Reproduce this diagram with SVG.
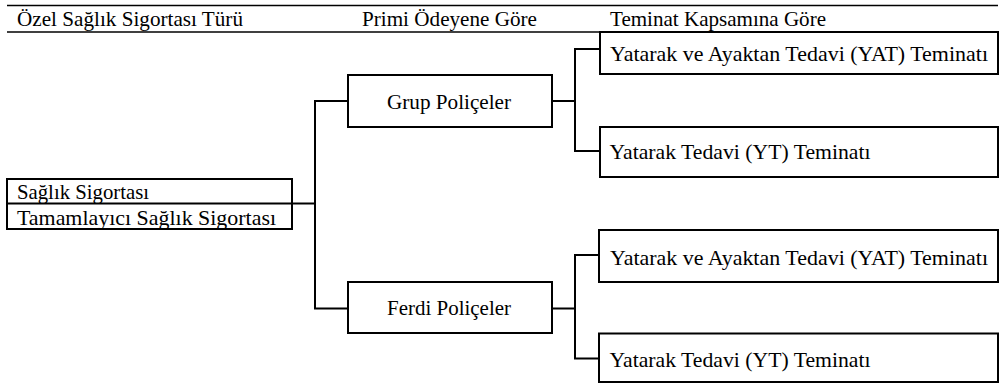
<svg xmlns="http://www.w3.org/2000/svg" width="1000" height="384" viewBox="0 0 1000 384">
<style>
text{font-family:'Liberation Serif','Times New Roman',Tinos,'DejaVu Serif',serif;font-size:21px;fill:#000}
.box{fill:#fff;stroke:#000;stroke-width:2}
.hdr{stroke:#000;stroke-width:1.6}
.con{fill:none;stroke:#000;stroke-width:2}
</style>
<rect width="1000" height="384" fill="#fff"/>
<g id="header">
<line class="hdr" x1="7" y1="5.5" x2="998" y2="5.5"/>
<line class="hdr" x1="7" y1="32" x2="998" y2="32"/>
<text x="17" y="25.5" textLength="226" lengthAdjust="spacingAndGlyphs">Özel Sağlık Sigortası Türü</text>
<text x="362" y="25.5" textLength="175" lengthAdjust="spacingAndGlyphs">Primi Ödeyene Göre</text>
<text x="610" y="25.5" textLength="216" lengthAdjust="spacingAndGlyphs">Teminat Kapsamına Göre</text>
</g>
<g id="connectors">
<polyline class="con" points="292,203.5 315,203.5"/>
<polyline class="con" points="348,101 315,101 315,308.5 348,308.5"/>
<polyline class="con" points="552,101 575,101"/>
<polyline class="con" points="600,49 575,49 575,151 600,151"/>
<polyline class="con" points="552,308.5 575,308.5"/>
<polyline class="con" points="599,255 575,255 575,358.5 599,358.5"/>
</g>
<g id="root">
<rect class="box" x="7" y="179" width="285" height="50"/>
<line class="con" x1="7" y1="203.5" x2="292" y2="203.5"/>
<text x="17" y="199" textLength="132" lengthAdjust="spacingAndGlyphs">Sağlık Sigortası</text>
<text x="17" y="224.5" textLength="259" lengthAdjust="spacingAndGlyphs">Tamamlayıcı Sağlık Sigortası</text>
</g>
<g id="grup">
<rect class="box" x="348" y="75" width="204" height="52"/>
<text x="387" y="109" textLength="124" lengthAdjust="spacingAndGlyphs">Grup Poliçeler</text>
</g>
<g id="ferdi">
<rect class="box" x="348" y="282" width="204" height="51"/>
<text x="387" y="315" textLength="124" lengthAdjust="spacingAndGlyphs">Ferdi Poliçeler</text>
</g>
<g id="grup-yat">
<rect class="box" x="600" y="32" width="398" height="42"/>
<text x="610" y="60.5" textLength="378" lengthAdjust="spacingAndGlyphs">Yatarak ve Ayaktan Tedavi (YAT) Teminatı</text>
</g>
<g id="grup-yt">
<rect class="box" x="600" y="127" width="398" height="50"/>
<text x="609.5" y="159" textLength="261" lengthAdjust="spacingAndGlyphs">Yatarak Tedavi (YT) Teminatı</text>
</g>
<g id="ferdi-yat">
<rect class="box" x="599" y="230" width="399" height="52"/>
<text x="610" y="265" textLength="378" lengthAdjust="spacingAndGlyphs">Yatarak ve Ayaktan Tedavi (YAT) Teminatı</text>
</g>
<g id="ferdi-yt">
<rect class="box" x="599" y="333.5" width="399" height="48.5"/>
<text x="609.5" y="367" textLength="261" lengthAdjust="spacingAndGlyphs">Yatarak Tedavi (YT) Teminatı</text>
</g>
</svg>
